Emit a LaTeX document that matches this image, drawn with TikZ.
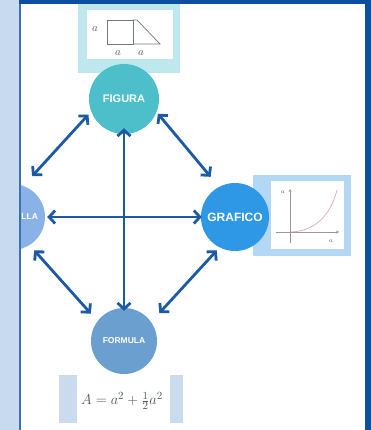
\documentclass[tikz,border=0pt]{standalone}
\usepackage{fontspec}
\newfontfamily\lab{Liberation Sans}
\usetikzlibrary{arrows.meta}
\definecolor{borderc}{HTML}{0B4F9E}
\definecolor{stripc}{HTML}{C7DAF0}
\definecolor{figc}{HTML}{4DBFCB}
\definecolor{figframe}{HTML}{BFE7EE}
\definecolor{grafc}{HTML}{2F98E6}
\definecolor{grafframe}{HTML}{B3D8F6}
\definecolor{tabc}{HTML}{8AB2E6}
\definecolor{formc}{HTML}{6B9FD0}
\definecolor{formframe}{HTML}{C9DBEC}
\definecolor{arrc}{HTML}{1D5AA5}
\definecolor{inkc}{HTML}{505860}
\definecolor{curvec}{HTML}{D9A3A3}
\begin{document}
\begin{tikzpicture}[x=1pt,y=-1pt,
  bubble/.style={circle,inner sep=0pt,text=white},
  arr/.style={draw=arrc,line width=2.8pt,{Straight Barb[length=6pt,width=13pt]}-{Straight Barb[length=6pt,width=13pt]}},
  sketch/.style={draw=inkc!80,line width=0.7pt},
  hand/.style={text=inkc,inner sep=0pt}]
\useasboundingbox (0,0) rectangle (371,430);
\fill[white] (0,0) rectangle (371,430);
% figure picture frame
\fill[figframe] (78,4) rectangle (180,73);
\fill[white] (87,10) rectangle (173,59);
\draw[sketch] (107,20) rectangle (133,44);
\draw[sketch] (133,20) -- (137,20) -- (160,44) -- (133,44);
\node[hand,font=\fontsize{11}{12}\selectfont] (la1) at (95,29) {$a$};
\node[hand,font=\fontsize{11}{12}\selectfont] (la2) at (118,53) {$a$};
\node[hand,font=\fontsize{11}{12}\selectfont] (la3) at (141,53) {$a$};
% graph frame
\fill[grafframe] (253,175) rectangle (351,256);
\fill[white] (271,181) rectangle (344,249);
\draw[draw=gray!80,line width=0.6pt,-{Stealth[length=3pt,width=3pt]}] (290,243) -- (290,189);
\draw[draw=gray!80,line width=0.6pt,-{Stealth[length=3pt,width=3pt]}] (276,232) -- (339,232);
\draw[curvec,line width=0.6pt] (291,232) .. controls (316,231) and (331,214) .. (337,190);
\node[hand,font=\fontsize{6}{7}\selectfont] (ga1) at (283,192) {$a$};
\node[hand,font=\fontsize{6}{7}\selectfont] (ga2) at (331,241) {$a$};
% formula frame
\fill[formframe] (59,375) rectangle (183,423);
\fill[white] (77,375) rectangle (170,423);
\node[hand,font=\fontsize{15}{17}\selectfont] (eq) at (122,401) {$A = a^2 + \frac{1}{2}a^2$};
% circles
\node[bubble,fill=figc,minimum size=70pt,font=\lab\bfseries\fontsize{11}{12}\selectfont] (fig) at (124,99) {FIGURA};
\node[bubble,fill=grafc,minimum size=68pt,font=\lab\bfseries\fontsize{12}{13}\selectfont] (graf) at (235,217) {GRAFICO};
\node[bubble,fill=tabc,minimum size=66pt,text width=52pt,align=right,font=\lab\bfseries\fontsize{8.5}{10}\selectfont] (tab) at (12,217) {PLANILLA};
\node[bubble,fill=formc,minimum size=66pt,font=\lab\bfseries\fontsize{8.5}{10}\selectfont] (form) at (124,341) {FORMULA};
% connectors
\draw[arr,shorten <=-6pt,shorten >=-3pt] (fig.south) -- (form.north);
\draw[arr,shorten <=2pt,shorten >=-1pt] (tab.east) -- (graf.west);
\draw[arr,shorten <=4pt,shorten >=13pt] (fig.201) -- (tab.70);
\draw[arr,shorten <=2pt,shorten >=13pt] (fig.338) -- (graf.118);
\draw[arr,shorten <=7pt,shorten >=10pt] (tab.302) -- (form.143);
\draw[arr,shorten <=4pt,shorten >=12pt] (graf.243) -- (form.35);
% page borders
\fill[stripc] (0,0) rectangle (19,430);
\fill[borderc!80] (19,0) rectangle (20.5,430);
\fill[borderc] (19,0) rectangle (371,4);
\fill[borderc] (365,0) rectangle (371,430);
\end{tikzpicture}
\end{document}
